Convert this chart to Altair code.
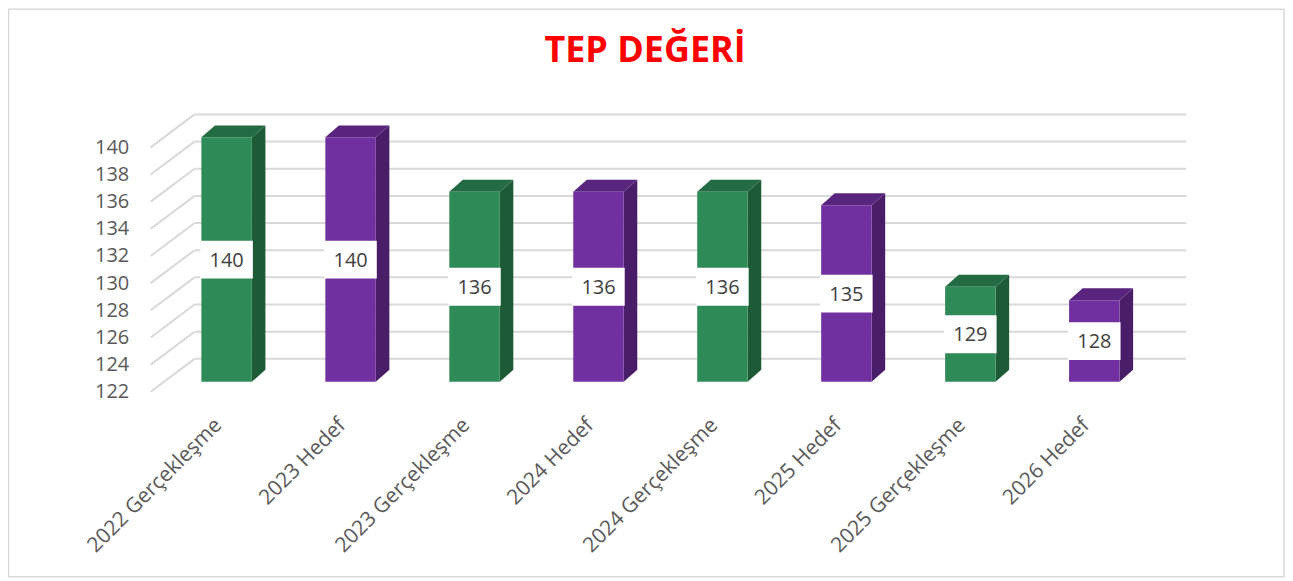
import altair as alt
import pandas as pd

# ---- data ----
categories = ["2022 Gerçekleşme", "2023 Hedef", "2023 Gerçekleşme", "2024 Hedef",
              "2024 Gerçekleşme", "2025 Hedef", "2025 Gerçekleşme", "2026 Hedef"]
values = [140, 140, 136, 136, 136, 135, 129, 128]
series = ["Gerçekleşme", "Hedef", "Gerçekleşme", "Hedef",
          "Gerçekleşme", "Hedef", "Gerçekleşme", "Hedef"]
y_ticks = [122, 124, 126, 128, 130, 132, 134, 136, 138, 140]
series_names = ["Gerçekleşme", "Hedef"]

# ---- styling / layout ----
front_colors = ["#2E8B57", "#7030A0"]
top_colors = ["#236B42", "#58247E"]
side_colors = ["#1D5A36", "#4A1D69"]
Y_MIN, Y_MAX = 122, 140
W, H = 994, 245
N = len(categories)
PAD_IN = 0.593
PAD_OUT = PAD_IN / 2
DX = 13.6 / (W / N)                 # 3D depth, in band-step units
DY = 12 / (H / (Y_MAX - Y_MIN))     # 3D depth, in value units

df = pd.DataFrame({"cat": categories, "v": values, "s": series})
df["mid"] = (df["v"] + Y_MIN) / 2
df["base"] = Y_MIN

top_rows, side_rows = [], []
for i, (v, s) in enumerate(zip(values, series)):
    L = i + PAD_OUT
    R = L + (1 - PAD_IN)
    top_rows += [
        {"bar": i, "s": s, "x": L, "y": v, "y2": v},
        {"bar": i, "s": s, "x": L + DX, "y": v + DY, "y2": v},
        {"bar": i, "s": s, "x": R, "y": v + DY, "y2": v},
        {"bar": i, "s": s, "x": R + DX, "y": v + DY, "y2": v + DY},
    ]
    side_rows += [
        {"bar": i, "s": s, "x": R, "y": v, "y2": Y_MIN},
        {"bar": i, "s": s, "x": R + DX, "y": v + DY, "y2": Y_MIN + DY},
    ]
top_df = pd.DataFrame(top_rows)
side_df = pd.DataFrame(side_rows)
grid_df = pd.DataFrame({"t": y_ticks})
one_df = pd.DataFrame({"k": [0]})

yscale = alt.Scale(domain=[Y_MIN, Y_MAX], nice=False, zero=False)
yaxis = alt.Axis(values=y_ticks, title=None, grid=False, domain=False, ticks=False,
                 labelPadding=36, labelOffset=10, labelFlush=False, zindex=1,
                 labelFont="Open Sans", labelFontSize=20, labelColor="#595959")
xq = alt.X("x:Q", scale=alt.Scale(domain=[0, N], nice=False, zero=False), axis=None)

frame = alt.Chart(one_df).mark_rect(filled=False, stroke="#D9D9D9", strokeWidth=1.5).encode(
    x=alt.value(-156.5), x2=alt.value(1122), y=alt.value(-128.5), y2=alt.value(440.5)
)

grid = alt.Chart(grid_df).mark_rule(color="#D9D9D9", strokeWidth=2, yOffset=-23).encode(
    x=alt.value(30), x2=alt.value(1024),
    y=alt.Y("t:Q", scale=yscale, axis=yaxis),
)
diag = alt.Chart(grid_df).mark_rule(color="#D9D9D9", strokeWidth=2, yOffset=10, y2Offset=-23).encode(
    x=alt.value(-14), x2=alt.value(30),
    y=alt.Y("t:Q", scale=yscale, axis=yaxis), y2=alt.Y2("t:Q"),
)

side = alt.Chart(side_df).mark_area(interpolate="linear").encode(
    x=xq,
    y=alt.Y("y:Q", scale=yscale, axis=yaxis, stack=None), y2="y2:Q",
    detail="bar:N",
    color=alt.Color("s:N", scale=alt.Scale(domain=series_names, range=side_colors), legend=None),
)
top = alt.Chart(top_df).mark_area(interpolate="linear").encode(
    x=xq,
    y=alt.Y("y:Q", scale=yscale, axis=yaxis, stack=None), y2="y2:Q",
    detail="bar:N",
    color=alt.Color("s:N", scale=alt.Scale(domain=series_names, range=top_colors), legend=None),
)

xband = alt.X(
    "cat:N", sort=categories, title=None,
    scale=alt.Scale(paddingInner=PAD_IN, paddingOuter=PAD_OUT),
    axis=alt.Axis(labelAngle=-45, labelAlign="right", labelBaseline="middle",
                  labelFont="Open Sans", labelFontSize=21, labelColor="#595959",
                  labelPadding=40, labelOffset=-8, labelLimit=400, zindex=1,
                  domain=False, ticks=False, grid=False),
)

bars = alt.Chart(df).mark_bar(strokeWidth=0).encode(
    x=xband,
    y=alt.Y("v:Q", scale=yscale, axis=yaxis), y2="base:Q",
    color=alt.Color("s:N", scale=alt.Scale(domain=series_names, range=front_colors), legend=None),
)
boxes = alt.Chart(df).mark_point(
    shape="M-1,-0.72L1,-0.72L1,0.72L-1,0.72Z", size=52.6 ** 2,
    filled=True, fill="white", opacity=1, strokeWidth=0,
).encode(
    x=xband,
    y=alt.Y("mid:Q", scale=yscale, axis=yaxis),
)
labels = alt.Chart(df).mark_text(
    font="Open Sans", fontSize=20, color="#404040", align="center", baseline="middle", dy=1
).encode(
    x=xband,
    y=alt.Y("mid:Q", scale=yscale, axis=yaxis),
    text=alt.Text("v:Q"),
)

back = alt.layer(frame, grid, diag, side, top).resolve_scale(color="independent")
front = alt.layer(bars, boxes, labels)

chart = alt.layer(back, front).resolve_scale(x="independent", color="independent").properties(
    width=W, height=H,
    background="white",
    title=alt.TitleParams("TEP DEĞERİ", font="Open Sans", fontSize=36, fontWeight="bold",
                          color="#FF0000", anchor="middle", offset=-62, dx=-15.5),
    autosize=alt.AutoSizeParams(type="none"),
    padding={"left": 157, "top": 129, "right": 129, "bottom": 198},
).configure_view(stroke="transparent", strokeWidth=0)

chart.save("out.html", embed_options={"renderer": "svg", "actions": False})
